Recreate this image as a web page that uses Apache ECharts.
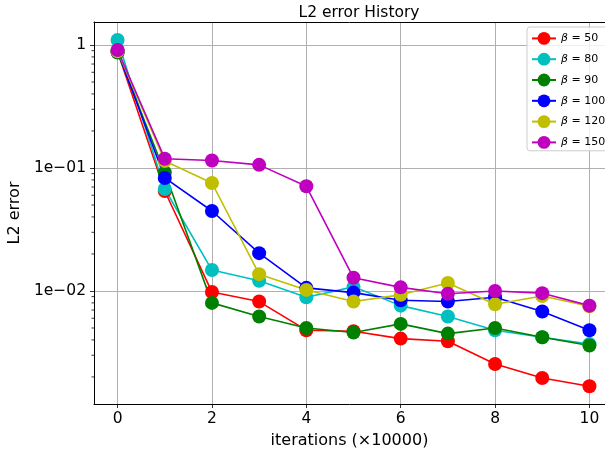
<!DOCTYPE html>
<html>
<head>
<meta charset="utf-8">
<script src="https://cdn.jsdelivr.net/npm/echarts@6/dist/echarts.min.js"></script>
<style>html,body{margin:0;padding:0;background:#fff;overflow:hidden}#c{width:605px;height:456px}</style>
</head>
<body>
<div id="c"></div>
<script>
const iterations = [0, 1, 2, 3, 4, 5, 6, 7, 8, 9, 10];
const seriesNames = ['β = 50', 'β = 80', 'β = 90', 'β = 100', 'β = 120', 'β = 150'];
const err50  = [0.88, 0.065, 0.0098, 0.0082, 0.0048, 0.0047, 0.0041, 0.0039, 0.00255, 0.00196, 0.00168];
const err80  = [1.10, 0.0675, 0.0148, 0.0121, 0.0089, 0.0108, 0.0076, 0.0062, 0.0048, 0.0042, 0.0037];
const err90  = [0.87, 0.092, 0.0080, 0.0062, 0.0050, 0.0046, 0.0054, 0.0045, 0.0050, 0.0042, 0.0036];
const err100 = [0.89, 0.083, 0.0447, 0.0203, 0.0106, 0.0097, 0.0084, 0.0082, 0.0089, 0.0068, 0.0048];
const err120 = [0.89, 0.114, 0.0755, 0.0137, 0.0102, 0.0082, 0.0093, 0.0116, 0.0078, 0.0091, 0.0075];
const err150 = [0.91, 0.119, 0.115, 0.106, 0.071, 0.0128, 0.0107, 0.0095, 0.0100, 0.0096, 0.0076];
const xTicks = [0, 2, 4, 6, 8, 10];
const yTicks = [0.01, 0.1, 1];
const yTickLabels = ['1e\u221202', '1e\u221201', '1'];
const yMinorTicks = [0.002,0.003,0.004,0.005,0.006,0.007,0.008,0.009,
                     0.02,0.03,0.04,0.05,0.06,0.07,0.08,0.09,
                     0.2,0.3,0.4,0.5,0.6,0.7,0.8,0.9];

const allErr = [err50, err80, err90, err100, err120, err150];
const colors = ['#ff0000', '#00bfbf', '#008000', '#0000ff', '#bfbf00', '#bf00bf'];
const X_MIN = -0.5, X_MAX = 10.33, Y_MIN = 0.001205, Y_MAX = 1.538;
const FONT = 'DejaVu Sans';

const chart = echarts.init(document.getElementById('c'), null, {renderer: 'canvas'});
const lineSeries = seriesNames.map((name, i) => ({
  name: name,
  type: 'line',
  data: iterations.map((x, j) => [x, allErr[i][j]]),
  symbol: 'circle',
  symbolSize: 14,
  lineStyle: {color: colors[i], width: 1.6},
  itemStyle: {color: colors[i]},
  color: colors[i],
  emphasis: {disabled: true},
  animation: false
}));

const minorSeries = {
  type: 'custom',
  silent: true,
  clip: false,
  animation: false,
  z: 10,
  data: yMinorTicks.map(v => [X_MIN, v]),
  renderItem: function (params, api) {
    const p = api.coord([api.value(0), api.value(1)]);
    return {type: 'line', shape: {x1: p[0] - 2.5, y1: p[1], x2: p[0], y2: p[1]},
            style: {stroke: '#000', lineWidth: 0.8}};
  }
};

chart.setOption({
  animation: false,
  backgroundColor: '#fff',
  title: {
    text: 'L2 error History', left: 354, top: 0, textAlign: 'center',
    textStyle: {fontFamily: FONT, fontSize: 15.5, fontWeight: 'normal', color: '#000'}
  },
  legend: {
    data: seriesNames,
    orient: 'vertical',
    left: 527, top: 27,
    itemWidth: 24, itemHeight: 16, itemGap: 8,
    padding: [5, 8, 2, 4],
    backgroundColor: 'rgba(255,255,255,0.8)',
    borderColor: '#cccccc', borderWidth: 1, borderRadius: 3,
    textStyle: {fontFamily: FONT, fontSize: 11, color: '#000',
      rich: {i: {fontStyle: 'italic', fontFamily: FONT, fontSize: 11}}},
    formatter: n => n.replace('β', '{i|β}')
  },
  grid: {left: 94, top: 22, width: 511, height: 382, outerBoundsMode: 'none', containLabel: false, show: false},
  xAxis: [{
    type: 'value', min: X_MIN, max: X_MAX,
    name: 'iterations (×10000)', nameLocation: 'middle', nameGap: 29,
    nameTextStyle: {fontFamily: FONT, fontSize: 16, color: '#000'},
    axisLine: {show: true, onZero: false, lineStyle: {color: '#000', width: 1}},
    axisTick: {show: true, length: 4, customValues: xTicks, lineStyle: {color: '#000', width: 0.8}},
    axisLabel: {customValues: xTicks, margin: 7, fontFamily: FONT, fontSize: 15.5, color: '#000'},
    splitLine: {show: true, customValues: xTicks, lineStyle: {color: '#b0b0b0', width: 1}}
  }, {
    type: 'value', position: 'top', min: X_MIN, max: X_MAX,
    axisLine: {show: true, onZero: false, lineStyle: {color: '#000', width: 1}},
    axisTick: {show: false}, axisLabel: {show: false}, splitLine: {show: false}
  }],
  yAxis: {
    type: 'log', logBase: 10, min: Y_MIN, max: Y_MAX,
    name: 'L2 error', nameLocation: 'middle', nameGap: 65, nameRotate: 90,
    nameTextStyle: {fontFamily: FONT, fontSize: 16, color: '#000'},
    axisLine: {show: true, onZero: false, lineStyle: {color: '#000', width: 1}},
    axisTick: {show: true, length: 4, customValues: yTicks, lineStyle: {color: '#000', width: 0.8}},
    axisLabel: {customValues: yTicks, margin: 8, fontFamily: FONT, fontSize: 15.5, color: '#000',
      formatter: v => { const k = yTicks.findIndex(t => Math.abs(t - v) / t < 1e-6); return k >= 0 ? yTickLabels[k] : ''; }},
    splitLine: {show: true, lineStyle: {color: '#b0b0b0', width: 1}},
    minorTick: {show: false}
  },
  series: lineSeries.concat([minorSeries])
});
</script>
</body>
</html>
